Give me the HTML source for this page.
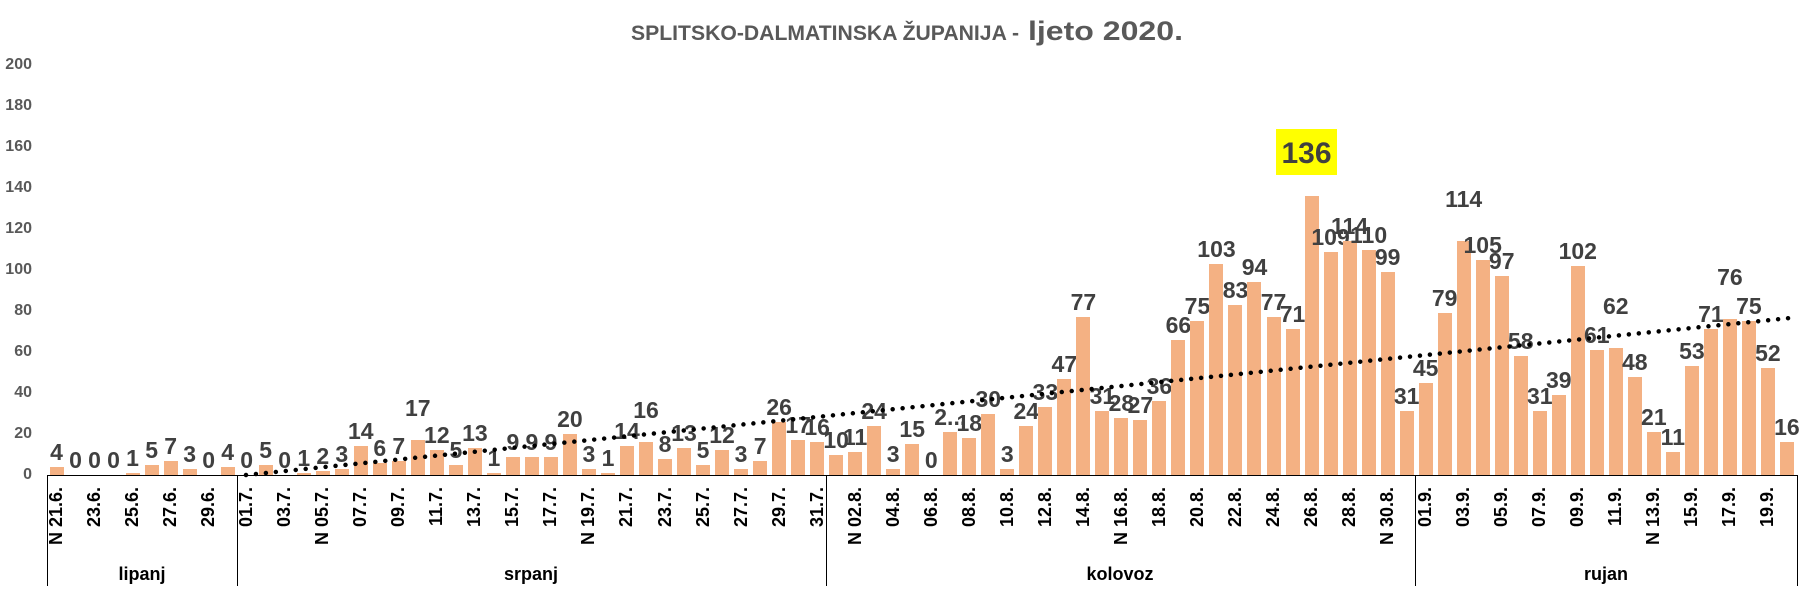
<!DOCTYPE html>
<html><head><meta charset="utf-8"><style>
body{margin:0;width:1805px;height:590px;background:#fff;position:relative;overflow:hidden;font-family:"Liberation Sans",sans-serif}
#bars{position:absolute;left:47px;bottom:115px;display:flex;align-items:flex-end;height:420px}
#bars>div{width:19.03px;display:flex;flex-direction:column;align-items:center;justify-content:flex-end}
#bars b{display:block;white-space:nowrap;font-size:23px;line-height:24px;color:#404040;margin-bottom:3px}
#bars i{display:block;width:14px;background:#F4B183}
#ticks{position:absolute;left:47px;top:487px;display:flex}
#ticks>div{width:19.03px;height:60px;position:relative}
#ticks span{position:absolute;top:0;left:0;width:19px;writing-mode:vertical-rl;transform:rotate(180deg);font-size:18px;font-weight:bold;line-height:19px;white-space:nowrap;color:#000}
.yl{position:absolute;right:1773px;font-size:16px;font-weight:bold;color:#595959;line-height:16px}
.m{position:absolute;top:564px;font-size:18px;font-weight:bold;transform:translateX(-50%)}
svg{position:absolute;left:0;top:0}
</style></head><body>
<div class="yl" style="top:467px">0</div>
<div class="yl" style="top:426px">20</div>
<div class="yl" style="top:385px">40</div>
<div class="yl" style="top:344px">60</div>
<div class="yl" style="top:303px">80</div>
<div class="yl" style="top:262px">100</div>
<div class="yl" style="top:221px">120</div>
<div class="yl" style="top:180px">140</div>
<div class="yl" style="top:139px">160</div>
<div class="yl" style="top:98px">180</div>
<div class="yl" style="top:57px">200</div>

<div id="bars">
<div><b>4</b><i style="height:calc(2.05px*4)"></i></div>
<div><b>0</b><i style="height:0"></i></div>
<div><b>0</b><i style="height:0"></i></div>
<div><b>0</b><i style="height:0"></i></div>
<div><b>1</b><i style="height:calc(2.05px*1)"></i></div>
<div><b>5</b><i style="height:calc(2.05px*5)"></i></div>
<div><b>7</b><i style="height:calc(2.05px*7)"></i></div>
<div><b>3</b><i style="height:calc(2.05px*3)"></i></div>
<div><b>0</b><i style="height:0"></i></div>
<div><b>4</b><i style="height:calc(2.05px*4)"></i></div>
<div><b>0</b><i style="height:0"></i></div>
<div><b>5</b><i style="height:calc(2.05px*5)"></i></div>
<div><b>0</b><i style="height:0"></i></div>
<div><b>1</b><i style="height:calc(2.05px*1)"></i></div>
<div><b>2</b><i style="height:calc(2.05px*2)"></i></div>
<div><b>3</b><i style="height:calc(2.05px*3)"></i></div>
<div><b>14</b><i style="height:calc(2.05px*14)"></i></div>
<div><b>6</b><i style="height:calc(2.05px*6)"></i></div>
<div><b>7</b><i style="height:calc(2.05px*7)"></i></div>
<div><b style="margin-bottom:20px">17</b><i style="height:calc(2.05px*17)"></i></div>
<div><b>12</b><i style="height:calc(2.05px*12)"></i></div>
<div><b>5</b><i style="height:calc(2.05px*5)"></i></div>
<div><b>13</b><i style="height:calc(2.05px*13)"></i></div>
<div><b>1</b><i style="height:calc(2.05px*1)"></i></div>
<div><b>9</b><i style="height:calc(2.05px*9)"></i></div>
<div><b>9</b><i style="height:calc(2.05px*9)"></i></div>
<div><b>9</b><i style="height:calc(2.05px*9)"></i></div>
<div><b>20</b><i style="height:calc(2.05px*20)"></i></div>
<div><b>3</b><i style="height:calc(2.05px*3)"></i></div>
<div><b>1</b><i style="height:calc(2.05px*1)"></i></div>
<div><b>14</b><i style="height:calc(2.05px*14)"></i></div>
<div><b style="margin-bottom:20px">16</b><i style="height:calc(2.05px*16)"></i></div>
<div><b>8</b><i style="height:calc(2.05px*8)"></i></div>
<div><b>13</b><i style="height:calc(2.05px*13)"></i></div>
<div><b>5</b><i style="height:calc(2.05px*5)"></i></div>
<div><b>12</b><i style="height:calc(2.05px*12)"></i></div>
<div><b>3</b><i style="height:calc(2.05px*3)"></i></div>
<div><b>7</b><i style="height:calc(2.05px*7)"></i></div>
<div><b>26</b><i style="height:calc(2.05px*26)"></i></div>
<div><b>17</b><i style="height:calc(2.05px*17)"></i></div>
<div><b>16</b><i style="height:calc(2.05px*16)"></i></div>
<div><b>10</b><i style="height:calc(2.05px*10)"></i></div>
<div><b>11</b><i style="height:calc(2.05px*11)"></i></div>
<div><b>24</b><i style="height:calc(2.05px*24)"></i></div>
<div><b>3</b><i style="height:calc(2.05px*3)"></i></div>
<div><b>15</b><i style="height:calc(2.05px*15)"></i></div>
<div><b>0</b><i style="height:0"></i></div>
<div><b>2...</b><i style="height:calc(2.05px*21)"></i></div>
<div><b>18</b><i style="height:calc(2.05px*18)"></i></div>
<div><b>30</b><i style="height:calc(2.05px*30)"></i></div>
<div><b>3</b><i style="height:calc(2.05px*3)"></i></div>
<div><b>24</b><i style="height:calc(2.05px*24)"></i></div>
<div><b>33</b><i style="height:calc(2.05px*33)"></i></div>
<div><b>47</b><i style="height:calc(2.05px*47)"></i></div>
<div><b>77</b><i style="height:calc(2.05px*77)"></i></div>
<div><b>31</b><i style="height:calc(2.05px*31)"></i></div>
<div><b>28</b><i style="height:calc(2.05px*28)"></i></div>
<div><b>27</b><i style="height:calc(2.05px*27)"></i></div>
<div><b>36</b><i style="height:calc(2.05px*36)"></i></div>
<div><b>66</b><i style="height:calc(2.05px*66)"></i></div>
<div><b>75</b><i style="height:calc(2.05px*75)"></i></div>
<div><b>103</b><i style="height:calc(2.05px*103)"></i></div>
<div><b>83</b><i style="height:calc(2.05px*83)"></i></div>
<div><b>94</b><i style="height:calc(2.05px*94)"></i></div>
<div><b>77</b><i style="height:calc(2.05px*77)"></i></div>
<div><b>71</b><i style="height:calc(2.05px*71)"></i></div>
<div><i style="height:calc(2.05px*136)"></i></div>
<div><b>109</b><i style="height:calc(2.05px*109)"></i></div>
<div><b>114</b><i style="height:calc(2.05px*114)"></i></div>
<div><b>110</b><i style="height:calc(2.05px*110)"></i></div>
<div><b>99</b><i style="height:calc(2.05px*99)"></i></div>
<div><b>31</b><i style="height:calc(2.05px*31)"></i></div>
<div><b>45</b><i style="height:calc(2.05px*45)"></i></div>
<div><b>79</b><i style="height:calc(2.05px*79)"></i></div>
<div><b style="margin-bottom:30px">114</b><i style="height:calc(2.05px*114)"></i></div>
<div><b>105</b><i style="height:calc(2.05px*105)"></i></div>
<div><b>97</b><i style="height:calc(2.05px*97)"></i></div>
<div><b>58</b><i style="height:calc(2.05px*58)"></i></div>
<div><b>31</b><i style="height:calc(2.05px*31)"></i></div>
<div><b>39</b><i style="height:calc(2.05px*39)"></i></div>
<div><b>102</b><i style="height:calc(2.05px*102)"></i></div>
<div><b>61</b><i style="height:calc(2.05px*61)"></i></div>
<div><b style="margin-bottom:30px">62</b><i style="height:calc(2.05px*62)"></i></div>
<div><b>48</b><i style="height:calc(2.05px*48)"></i></div>
<div><b>21</b><i style="height:calc(2.05px*21)"></i></div>
<div><b>11</b><i style="height:calc(2.05px*11)"></i></div>
<div><b>53</b><i style="height:calc(2.05px*53)"></i></div>
<div><b>71</b><i style="height:calc(2.05px*71)"></i></div>
<div><b style="margin-bottom:30px">76</b><i style="height:calc(2.05px*76)"></i></div>
<div><b>75</b><i style="height:calc(2.05px*75)"></i></div>
<div><b>52</b><i style="height:calc(2.05px*52)"></i></div>
<div><b>16</b><i style="height:calc(2.05px*16)"></i></div>
</div>

<div id="ticks">
<div><span>N 21.6.</span></div><div></div>
<div><span>23.6.</span></div><div></div>
<div><span>25.6.</span></div><div></div>
<div><span>27.6.</span></div><div></div>
<div><span>29.6.</span></div><div></div>
<div><span>01.7.</span></div><div></div>
<div><span>03.7.</span></div><div></div>
<div><span>N 05.7.</span></div><div></div>
<div><span>07.7.</span></div><div></div>
<div><span>09.7.</span></div><div></div>
<div><span>11.7.</span></div><div></div>
<div><span>13.7.</span></div><div></div>
<div><span>15.7.</span></div><div></div>
<div><span>17.7.</span></div><div></div>
<div><span>N 19.7.</span></div><div></div>
<div><span>21.7.</span></div><div></div>
<div><span>23.7.</span></div><div></div>
<div><span>25.7.</span></div><div></div>
<div><span>27.7.</span></div><div></div>
<div><span>29.7.</span></div><div></div>
<div><span>31.7.</span></div><div></div>
<div><span>N 02.8.</span></div><div></div>
<div><span>04.8.</span></div><div></div>
<div><span>06.8.</span></div><div></div>
<div><span>08.8.</span></div><div></div>
<div><span>10.8.</span></div><div></div>
<div><span>12.8.</span></div><div></div>
<div><span>14.8.</span></div><div></div>
<div><span>N 16.8.</span></div><div></div>
<div><span>18.8.</span></div><div></div>
<div><span>20.8.</span></div><div></div>
<div><span>22.8.</span></div><div></div>
<div><span>24.8.</span></div><div></div>
<div><span>26.8.</span></div><div></div>
<div><span>28.8.</span></div><div></div>
<div><span>N 30.8.</span></div><div></div>
<div><span>01.9.</span></div><div></div>
<div><span>03.9.</span></div><div></div>
<div><span>05.9.</span></div><div></div>
<div><span>07.9.</span></div><div></div>
<div><span>09.9.</span></div><div></div>
<div><span>11.9.</span></div><div></div>
<div><span>N 13.9.</span></div><div></div>
<div><span>15.9.</span></div><div></div>
<div><span>17.9.</span></div><div></div>
<div><span>19.9.</span></div><div></div>
</div>

<div class="m" style="left:142px">lipanj</div>
<div class="m" style="left:531px">srpanj</div>
<div class="m" style="left:1120px">kolovoz</div>
<div class="m" style="left:1606px">rujan</div>

<svg width="1805" height="590">
<text x="631" y="40" font-family="Liberation Sans, sans-serif" font-weight="bold" font-size="21" fill="#595959" textLength="388" lengthAdjust="spacingAndGlyphs">SPLITSKO-DALMATINSKA ŽUPANIJA -</text>
<text x="1028" y="40" font-family="Liberation Sans, sans-serif" font-weight="bold" font-size="27" fill="#595959" textLength="155" lengthAdjust="spacingAndGlyphs">ljeto 2020.</text>
<line x1="47" y1="475.5" x2="1798" y2="475.5" stroke="#000" stroke-width="1"/>
<g stroke="#000" stroke-width="1">
<line x1="47.5" y1="475" x2="47.5" y2="586"/>
<line x1="237.5" y1="475" x2="237.5" y2="586"/>
<line x1="826.5" y1="475" x2="826.5" y2="586"/>
<line x1="1415.5" y1="475" x2="1415.5" y2="586"/>
<line x1="1797.5" y1="475" x2="1797.5" y2="586"/>
</g>
<line x1="246" y1="475" x2="1790" y2="318" stroke="#000" stroke-width="4.5" stroke-linecap="round" stroke-dasharray="0 10"/>
<rect x="1276" y="129" width="61" height="46" fill="#FFFF00"/>
<text x="1306.5" y="163" text-anchor="middle" font-family="Liberation Sans, sans-serif" font-weight="bold" font-size="30" fill="#404040">136</text>
</svg>
</body></html>
